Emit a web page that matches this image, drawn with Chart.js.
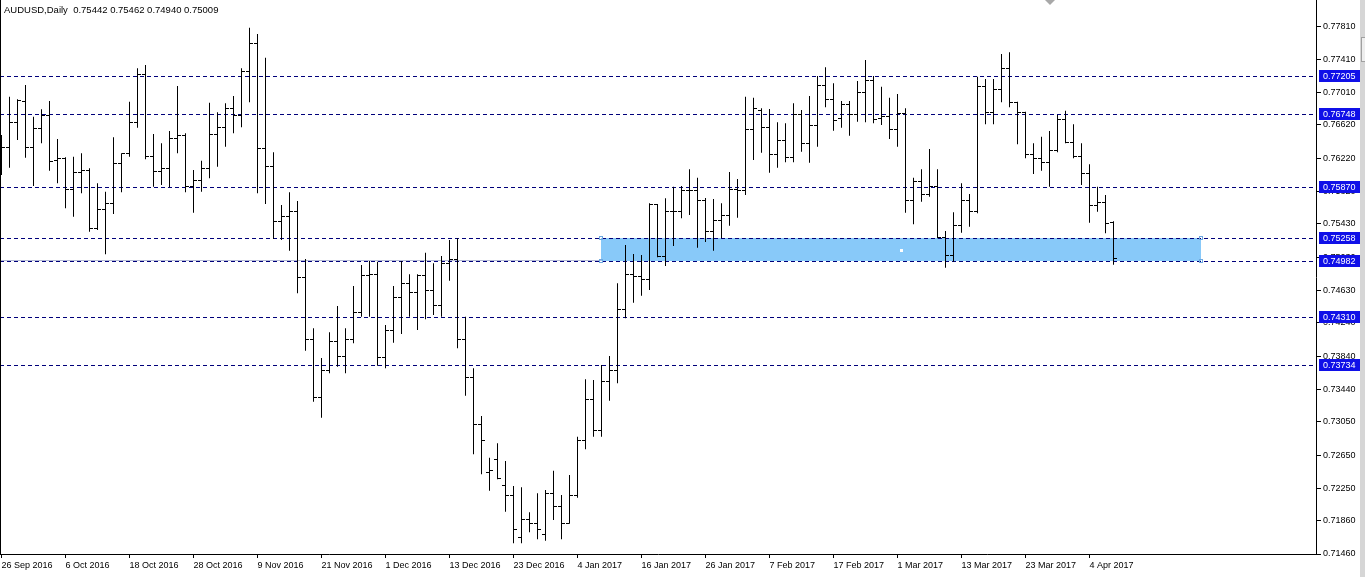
<!DOCTYPE html>
<html>
<head>
<meta charset="utf-8">
<script src="https://cdn.jsdelivr.net/npm/chart.js@4/dist/chart.umd.min.js"></script>
<style>
html,body{margin:0;padding:0;background:#fff;overflow:hidden}
#wrap{width:1365px;height:577px;position:relative}
</style>
</head>
<body>
<div id="wrap"><canvas id="c" width="1365" height="577"></canvas></div>
<script>
const chartTitle = 'AUDUSD,Daily  0.75442 0.75462 0.74940 0.75009';

const opens = [0.76139,0.76343,0.76652,0.76908,0.76343,0.76580,0.76728,0.76190,0.76211,0.75838,
0.76051,0.76070,0.75377,0.75606,0.75678,0.76159,0.76271,0.76652,0.77221,0.76238,
0.76063,0.76099,0.76460,0.76491,0.75878,0.75950,0.76099,0.76508,0.76592,0.76821,
0.76728,0.77269,0.77602,0.76339,0.76118,0.75457,0.75525,0.75585,0.74783,0.74042,
0.73345,0.73661,0.74013,0.73841,0.74042,0.74367,0.74804,0.74824,0.73826,0.74146,
0.74547,0.74716,0.74603,0.74804,0.74635,0.74443,0.74956,0.74996,0.74042,0.73585,
0.73012,0.72438,0.72591,0.72278,0.72158,0.71653,0.71877,0.71821,0.71700,0.72182,
0.72037,0.71829,0.72158,0.72823,0.73321,0.72943,0.73532,0.73665,0.74403,0.74824,
0.74795,0.74764,0.75658,0.75040,0.75585,0.75585,0.75826,0.75826,0.75709,0.75336,
0.75469,0.75537,0.75838,0.75826,0.76560,0.76790,0.76587,0.76267,0.76439,0.76226,
0.76740,0.76400,0.76611,0.77092,0.76932,0.76700,0.76869,0.76740,0.77013,0.77149,
0.76700,0.76724,0.76560,0.76760,0.75709,0.75938,0.75786,0.75878,0.75264,0.75048,
0.75405,0.75706,0.75577,0.77080,0.76772,0.77041,0.77302,0.76893,0.76772,0.76259,
0.76219,0.76171,0.76307,0.76688,0.76405,0.76238,0.76039,0.75649,0.75690,0.75442];

const highs = [0.76499,0.76960,0.76929,0.77101,0.76719,0.76808,0.76908,0.76451,0.76231,0.76238,
0.76279,0.76099,0.75919,0.75817,0.76472,0.76279,0.76900,0.77302,0.77341,0.76511,
0.76400,0.76547,0.77089,0.76520,0.76078,0.76190,0.76888,0.76772,0.76881,0.76968,
0.77302,0.77790,0.77714,0.77429,0.76291,0.75658,0.75810,0.75706,0.75008,0.74175,
0.73817,0.74126,0.74443,0.74175,0.74683,0.74936,0.74984,0.74976,0.74214,0.74683,
0.74984,0.74824,0.74824,0.75084,0.74956,0.75044,0.75237,0.75257,0.74314,0.73693,
0.73120,0.72618,0.72791,0.72579,0.72278,0.72262,0.71962,0.72190,0.72230,0.72462,
0.72170,0.72410,0.72871,0.73561,0.73553,0.73733,0.73841,0.74716,0.75176,0.75068,
0.75056,0.75678,0.75670,0.75738,0.75878,0.75886,0.76087,0.75986,0.75742,0.75730,
0.75678,0.76054,0.75970,0.76960,0.76948,0.76821,0.76812,0.76652,0.76640,0.76881,
0.76800,0.76968,0.77209,0.77314,0.77121,0.76908,0.76908,0.77149,0.77401,0.77209,
0.77080,0.76948,0.76993,0.76821,0.75986,0.76087,0.76331,0.76087,0.75345,0.75570,
0.75919,0.75790,0.77201,0.77173,0.77173,0.77474,0.77494,0.76900,0.76780,0.76400,
0.76479,0.76547,0.76740,0.76792,0.76628,0.76400,0.76147,0.75878,0.75778,0.75462];

const lows = [0.76018,0.76106,0.76439,0.76226,0.75886,0.76400,0.76070,0.75919,0.75618,0.75517,
0.75798,0.75336,0.75357,0.75065,0.75549,0.75810,0.76238,0.76587,0.76207,0.75878,
0.75898,0.75870,0.76279,0.75810,0.75565,0.75817,0.75979,0.76118,0.76359,0.76520,
0.76592,0.76893,0.75798,0.75670,0.75249,0.75237,0.75108,0.74595,0.73905,0.73292,
0.73099,0.73633,0.73713,0.73633,0.73994,0.74314,0.74314,0.73725,0.73693,0.74001,
0.74106,0.74314,0.74154,0.74283,0.74335,0.74314,0.74747,0.73934,0.73364,0.72659,
0.72419,0.72221,0.72359,0.71969,0.71589,0.71589,0.71721,0.71637,0.71620,0.71869,
0.71637,0.71825,0.72137,0.72719,0.72871,0.72871,0.73304,0.73513,0.74295,0.74482,
0.74567,0.74635,0.75030,0.74924,0.75164,0.75498,0.75537,0.75144,0.75212,0.75108,
0.75261,0.75409,0.75505,0.75778,0.76199,0.76287,0.76046,0.76106,0.76171,0.76171,
0.76299,0.76166,0.76359,0.76833,0.76551,0.76587,0.76491,0.76659,0.76652,0.76640,
0.76620,0.76451,0.76359,0.75565,0.75425,0.75697,0.75757,0.75257,0.74903,0.74976,
0.75324,0.75397,0.75558,0.76628,0.76628,0.76893,0.76833,0.76388,0.76219,0.76030,
0.76070,0.75878,0.76291,0.76400,0.76219,0.75898,0.75445,0.75577,0.75317,0.74940];

const closes = [0.76343,0.76652,0.76920,0.76347,0.76580,0.76728,0.76178,0.76211,0.75838,0.76051,
0.76070,0.75377,0.75606,0.75678,0.76159,0.76271,0.76652,0.77221,0.76238,0.76063,
0.76099,0.76460,0.76491,0.75878,0.75950,0.76099,0.76508,0.76592,0.76821,0.76728,
0.77269,0.77602,0.76339,0.76118,0.75457,0.75525,0.75585,0.74783,0.74042,0.73345,
0.73661,0.74013,0.73841,0.74042,0.74367,0.74804,0.74824,0.73826,0.74146,0.74547,
0.74716,0.74603,0.74804,0.74635,0.74443,0.74956,0.74996,0.74042,0.73585,0.73012,
0.72823,0.72462,0.72371,0.72158,0.71749,0.71877,0.71821,0.71749,0.72182,0.72037,
0.71829,0.72158,0.72823,0.73321,0.72943,0.73532,0.73665,0.74403,0.74824,0.74795,
0.74764,0.75658,0.75040,0.75585,0.75585,0.75826,0.75826,0.75709,0.75336,0.75469,
0.75537,0.75838,0.75826,0.76560,0.76821,0.76587,0.76267,0.76439,0.76226,0.76740,
0.76400,0.76611,0.77092,0.76932,0.76668,0.76869,0.76740,0.77013,0.77149,0.76680,
0.76724,0.76560,0.76760,0.75709,0.75938,0.75786,0.75878,0.75264,0.75048,0.75405,
0.75706,0.75577,0.77080,0.76772,0.77041,0.77302,0.76893,0.76772,0.76259,0.76219,
0.76171,0.76307,0.76688,0.76405,0.76238,0.76039,0.75649,0.75690,0.75437,0.75009];

const xTickLabels = ['26 Sep 2016','6 Oct 2016','18 Oct 2016','28 Oct 2016','9 Nov 2016','21 Nov 2016',
'1 Dec 2016','13 Dec 2016','23 Dec 2016','4 Jan 2017','16 Jan 2017','26 Jan 2017','7 Feb 2017',
'17 Feb 2017','1 Mar 2017','13 Mar 2017','23 Mar 2017','4 Apr 2017'];
const barsPerXLabel = 8;

const yTickValues = [0.77810,0.77410,0.77010,0.76620,0.76220,0.75820,0.75430,0.75030,0.74630,
0.74240,0.73840,0.73440,0.73050,0.72650,0.72250,0.71860,0.71460];

const levelLines = [0.77205,0.76748,0.75870,0.75258,0.74982,0.74310,0.73734];
const zoneLow = 0.74982, zoneHigh = 0.75258, zoneFromBar = 75, zoneToBar = 150;
const guideLineValue = 0.75000;

const FONT = "'Liberation Sans',Arial,sans-serif";

const overlay = {
  id: 'overlay',
  beforeDatasetsDraw(chart) {
    const {ctx, chartArea: a, scales: {x, y}} = chart;
    ctx.save();
    const zx1 = Math.round(x.getPixelForValue(zoneFromBar) - 0.5);
    const zx2 = Math.round(x.getPixelForValue(zoneToBar) - 0.5);
    const zy1 = Math.round(y.getPixelForValue(zoneHigh));
    const zy2 = Math.round(y.getPixelForValue(zoneLow));
    ctx.fillStyle = '#88c9f9';
    ctx.fillRect(zx1, zy1, zx2 - zx1, zy2 - zy1);
    ctx.strokeStyle = '#b3b9d6';
    ctx.lineWidth = 1;
    const gy = Math.round(y.getPixelForValue(guideLineValue)) + 0.5;
    ctx.beginPath(); ctx.moveTo(a.left, gy); ctx.lineTo(zx1, gy); ctx.stroke();
    ctx.strokeStyle = '#00007a';
    ctx.setLineDash([4, 3]);
    levelLines.forEach(v => {
      const ly = Math.round(y.getPixelForValue(v)) + 0.5;
      ctx.beginPath(); ctx.moveTo(a.left, ly); ctx.lineTo(a.right, ly); ctx.stroke();
    });
    ctx.restore();
  },
  afterDatasetsDraw(chart) {
    const {ctx, scales: {x, y}} = chart;
    ctx.save();
    ctx.fillStyle = '#000';
    for (let i = 0; i < opens.length; i++) {
      const px = Math.round(x.getPixelForValue(i) - 0.5);
      const oy = Math.round(y.getPixelForValue(opens[i]) - 0.5);
      const cy = Math.round(y.getPixelForValue(closes[i]) - 0.5);
      ctx.fillRect(px - 3, oy, 3, 1);
      ctx.fillRect(px + 1, cy, 3, 1);
    }
    const zx1 = Math.round(x.getPixelForValue(zoneFromBar) - 0.5);
    const zx2 = Math.round(x.getPixelForValue(zoneToBar) - 0.5);
    const zy1 = Math.round(y.getPixelForValue(zoneHigh));
    const zy2 = Math.round(y.getPixelForValue(zoneLow));
    ctx.strokeStyle = '#6fa8e0';
    ctx.lineWidth = 1;
    [[zx1, zy1], [zx1, zy2], [zx2, zy1], [zx2, zy2]].forEach(([hx, hy]) => {
      ctx.strokeRect(hx - 1.5, hy - 1.5, 3, 3);
    });
    ctx.fillStyle = '#ffffff';
    ctx.fillRect(Math.round((zx1 + zx2) / 2) - 1, Math.round((zy1 + zy2) / 2) - 1, 3, 3);
    ctx.restore();
  },
  afterDraw(chart) {
    const {ctx, chartArea: a, scales: {y}} = chart;
    ctx.save();
    ctx.fillStyle = '#000';
    ctx.fillRect(0, 0, 1, a.bottom);
    ctx.font = '9px ' + FONT;
    ctx.textBaseline = 'middle';
    ctx.textAlign = 'left';
    levelLines.forEach(v => {
      const ly = Math.round(y.getPixelForValue(v));
      ctx.fillStyle = '#1010e8';
      ctx.fillRect(a.right + 3, ly - 6, 41, 12);
      ctx.fillStyle = '#ffffff';
      ctx.fillText(v.toFixed(5), a.right + 7, ly + 0.5);
    });
    ctx.fillStyle = '#000';
    ctx.font = '9.5px ' + FONT;
    ctx.fillText(chartTitle, 4, 10);
    ctx.fillStyle = '#a8a8a8';
    ctx.beginPath(); ctx.moveTo(1045, 0); ctx.lineTo(1055, 0); ctx.lineTo(1050, 5); ctx.closePath(); ctx.fill();
    ctx.fillStyle = '#d6d6d6';
    ctx.fillRect(1360, 0, 5, 577);
    ctx.fillStyle = '#eeeeee';
    ctx.fillRect(1361, 37, 4, 25);
    ctx.strokeStyle = '#a0a0a0';
    ctx.strokeRect(1361.5, 37.5, 4, 24);
    ctx.restore();
  }
};

const ctx = document.getElementById('c').getContext('2d');
new Chart(ctx, {
  type: 'bar',
  data: {
    datasets: [{
      label: 'AUDUSD',
      data: highs.map((h, i) => ({x: i, y: [lows[i], h]})),
      backgroundColor: '#000',
      borderWidth: 0,
      barThickness: 1,
      inflateAmount: 0
    }]
  },
  options: {
    responsive: false,
    animation: false,
    devicePixelRatio: 1,
    layout: {padding: 0},
    plugins: {legend: {display: false}, tooltip: {enabled: false}, title: {display: false}},
    scales: {
      x: {
        type: 'linear',
        offset: false,
        min: -0.1875,
        max: 164.3125,
        afterBuildTicks(s) { s.ticks = xTickLabels.map((l, k) => ({value: k * barsPerXLabel})); },
        afterFit(s) { s.height = 23; s.paddingLeft = 0; s.paddingRight = 0; },
        grid: {display: true, offset: false, drawOnChartArea: false, drawTicks: true, tickLength: 4, color: '#000'},
        border: {display: true, color: '#000'},
        ticks: {
          autoSkip: false, maxRotation: 0, minRotation: 0, align: 'start', padding: 2,
          color: '#000', font: {family: FONT, size: 9},
          callback: v => xTickLabels[Math.round(v / barsPerXLabel)] ?? ''
        }
      },
      y: {
        type: 'linear',
        position: 'right',
        min: 0.71460,
        max: 0.78123,
        afterBuildTicks(s) { s.ticks = yTickValues.map(v => ({value: v})); },
        afterFit(s) { s.width = 49; s.paddingTop = 0; s.paddingBottom = 0; },
        grid: {display: true, drawOnChartArea: false, drawTicks: true, tickLength: 5, color: '#000'},
        border: {display: true, color: '#000'},
        ticks: {
          autoSkip: false, padding: 2, color: '#000', font: {family: FONT, size: 9},
          callback: v => Number(v).toFixed(5)
        }
      }
    }
  },
  plugins: [overlay]
});
</script>
</body>
</html>
